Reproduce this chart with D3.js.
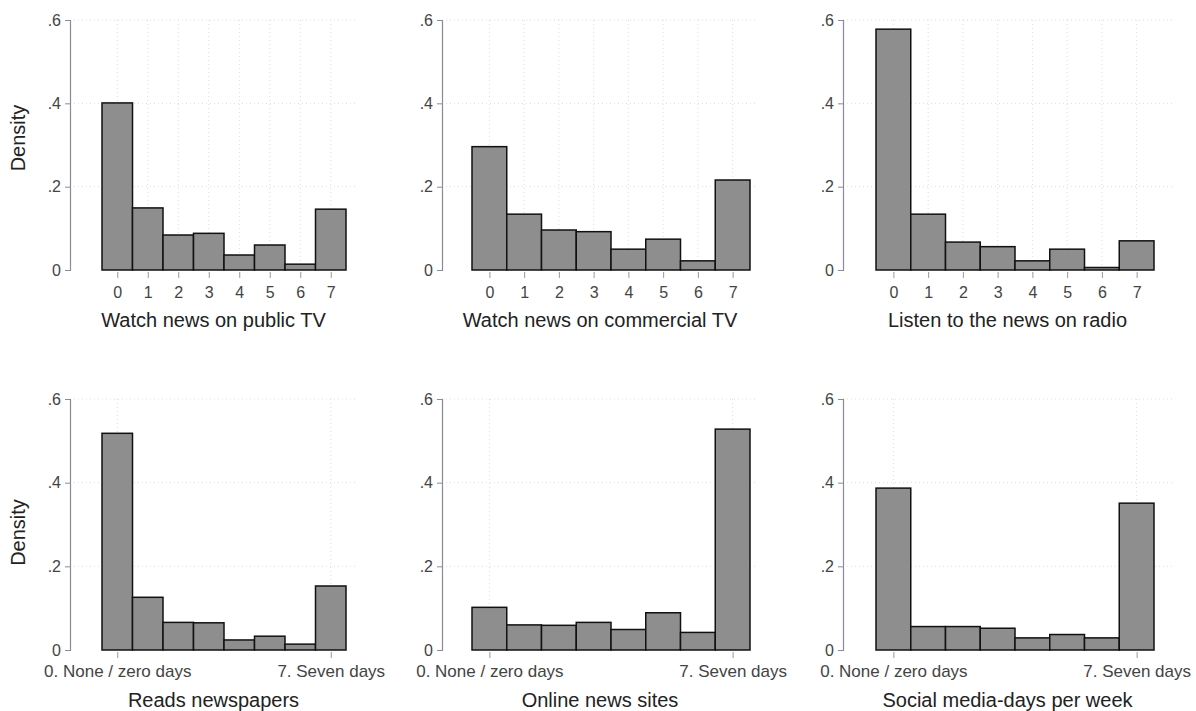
<!DOCTYPE html>
<html>
<head>
<meta charset="utf-8">
<script src="https://cdn.jsdelivr.net/npm/d3@7"></script>
<style>
  body { margin: 0; background: #fff; }
  svg { display: block; font-family: "Liberation Sans", Arial, sans-serif; }
</style>
</head>
<body>
<svg id="chart" width="1196" height="711"></svg>
<script>
// days per week, 0..7
const days = [0, 1, 2, 3, 4, 5, 6, 7];
const yTicks = [0, 0.2, 0.4, 0.6];
const yTickLabels = ["0", ".2", ".4", ".6"];

const titles = [
  "Watch news on public TV", "Watch news on commercial TV", "Listen to the news on radio",
  "Reads newspapers", "Online news sites", "Social media-days per week"
];

// density per day
const publicTV     = [0.401, 0.149, 0.084, 0.088, 0.036, 0.060, 0.014, 0.146];
const commercialTV = [0.296, 0.134, 0.096, 0.092, 0.050, 0.074, 0.022, 0.216];
const radio        = [0.578, 0.134, 0.067, 0.056, 0.022, 0.050, 0.006, 0.070];
const newspapers   = [0.518, 0.126, 0.066, 0.065, 0.024, 0.033, 0.014, 0.153];
const onlineNews   = [0.102, 0.060, 0.059, 0.066, 0.049, 0.089, 0.042, 0.528];
const socialMedia  = [0.387, 0.056, 0.056, 0.052, 0.029, 0.037, 0.029, 0.351];

const bottomTickLabels = { 0: "0. None / zero days", 7: "7. Seven days" };

const series = [publicTV, commercialTV, radio, newspapers, onlineNews, socialMedia];

// panel geometry
const cols = [
  { axisX: 70,  barL: 102, barR: 346,  plotR: 357 },
  { axisX: 442, barL: 472, barR: 750,  plotR: 758 },
  { axisX: 843, barL: 876, barR: 1154, plotR: 1172 }
];
const rows = [
  { top: 20,  bottom: 270 },
  { top: 399, bottom: 650 }
];

const svg = d3.select("#chart");

series.forEach((vals, i) => {
  const col = cols[i % 3];
  const row = rows[Math.floor(i / 3)];
  const isBottom = i >= 3;

  const x = d3.scaleLinear().domain([-0.5, 7.5]).range([col.barL, col.barR]);
  const y = d3.scaleLinear().domain([0, 0.6]).range([row.bottom, row.top]);

  const g = svg.append("g");

  // grid
  g.append("g").selectAll("line")
    .data(yTicks.slice(1))
    .join("line")
    .attr("x1", col.axisX).attr("x2", col.plotR)
    .attr("y1", d => y(d)).attr("y2", d => y(d))
    .attr("stroke", "#dcdcdc").attr("stroke-width", 1)
    .attr("stroke-dasharray", "1,3");

  const xt = isBottom ? [0, 7] : days;
  g.append("g").selectAll("line")
    .data(xt)
    .join("line")
    .attr("x1", d => x(d)).attr("x2", d => x(d))
    .attr("y1", row.top).attr("y2", row.bottom)
    .attr("stroke", "#dcdcdc").attr("stroke-width", 1)
    .attr("stroke-dasharray", "1,3");

  // bars
  g.append("g").selectAll("rect")
    .data(vals)
    .join("rect")
    .attr("x", (d, j) => x(days[j] - 0.5))
    .attr("width", x(1) - x(0))
    .attr("y", d => y(d))
    .attr("height", d => y(0) - y(d))
    .attr("fill", "#8e8e8e")
    .attr("stroke", "#111")
    .attr("stroke-width", 1.5);

  // y axis
  const yAxis = d3.axisLeft(y)
    .tickValues(yTicks)
    .tickFormat((d, k) => yTickLabels[k])
    .tickSize(5)
    .tickPadding(4);
  const ya = g.append("g").attr("transform", `translate(${col.axisX},0)`).call(yAxis);
  ya.select(".domain").attr("stroke", "#8a8a9a").attr("stroke-width", 1.2);
  ya.selectAll(".tick line").attr("stroke", "#8a8a9a");
  ya.selectAll(".tick text")
    .attr("font-size", 16).attr("fill", "#444")
    .attr("font-family", "Liberation Sans, Arial, sans-serif");

  // x axis (ticks and labels only)
  const xAxis = d3.axisBottom(x)
    .tickValues(xt)
    .tickFormat(d => isBottom ? bottomTickLabels[d] : String(d))
    .tickSize(6)
    .tickPadding(isBottom ? 7 : 9);
  const xa = g.append("g").attr("transform", `translate(0,${row.bottom + 2})`).call(xAxis);
  xa.select(".domain").remove();
  xa.selectAll(".tick line").attr("stroke", "#999");
  xa.selectAll(".tick text")
    .attr("font-size", isBottom ? 17 : 16).attr("fill", "#444")
    .attr("font-family", "Liberation Sans, Arial, sans-serif");

  // x title
  g.append("text")
    .attr("x", (col.axisX + col.plotR) / 2)
    .attr("y", row.bottom + 57)
    .attr("text-anchor", "middle")
    .attr("font-size", 20)
    .attr("fill", "#222")
    .text(titles[i]);

  // y title on first column
  if (i % 3 === 0) {
    g.append("text")
      .attr("transform", `translate(25,${(row.top + row.bottom) / 2 + (isBottom ? 8 : -7)}) rotate(-90)`)
      .attr("text-anchor", "middle")
      .attr("font-size", 20)
      .attr("fill", "#222")
      .text("Density");
  }
});
</script>
</body>
</html>
